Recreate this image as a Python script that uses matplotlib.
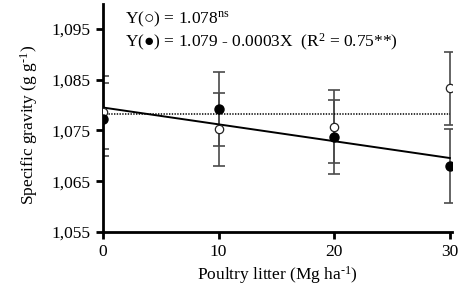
import matplotlib
matplotlib.use("Agg")
import matplotlib.pyplot as plt
import numpy as np

plt.rcParams['font.family'] = ['Liberation Serif', 'DejaVu Sans']
plt.rcParams['mathtext.fontset'] = 'custom'
plt.rcParams['mathtext.rm'] = 'Liberation Serif'
plt.rcParams['axes.unicode_minus'] = False

doses = [0, 10, 20, 30]
open_vals = [1.0786, 1.0752, 1.0757, 1.0833]
open_err = [0.0072, 0.0072, 0.0072, 0.0072]
filled_vals = [1.0772, 1.0793, 1.0737, 1.0680]
filled_err = [0.0072, 0.0073, 0.0073, 0.0073]
yticks = [1.055, 1.065, 1.075, 1.085, 1.095]
ytick_labels = ['1,055', '1,065', '1,075', '1,085', '1,095']
xticks = [0, 10, 20, 30]

fig = plt.figure(figsize=(4.70, 3.08), dpi=100)
ax = fig.add_axes([0.219, 0.247, 0.962 - 0.219, 0.988 - 0.247])

errc = '#4a4a4a'
ax.errorbar(doses, open_vals, yerr=open_err, fmt='none', ecolor=errc,
            elinewidth=1.2, capsize=4.5, capthick=1.2, zorder=2)
ax.errorbar(doses, filled_vals, yerr=filled_err, fmt='none', ecolor=errc,
            elinewidth=1.2, capsize=4.5, capthick=1.2, zorder=2)

# regression line for filled, mean line for open
coef = np.polyfit(doses, filled_vals, 1)
xs = np.array([doses[0], doses[-1]])
ax.plot(xs, np.polyval(coef, xs), color='black', lw=1.4, zorder=3)
ax.plot(xs, [np.mean(open_vals)] * 2, color='black', lw=1.1, ls=(0, (0.9, 0.9)), zorder=3)

ax.plot(doses, open_vals, 'o', mfc='white', mec='#222222', mew=0.9, ms=6, zorder=4)
ax.plot(doses, filled_vals, 'o', mfc='black', mec='black', ms=6.5, zorder=4)

ax.set_xlim(0, 30.2)
ax.set_ylim(1.055, 1.100)
ax.set_xticks(xticks)
ax.set_yticks(yticks)
ax.set_yticklabels(ytick_labels)
for s in ['top', 'right']:
    ax.spines[s].set_visible(False)
for s in ['left', 'bottom']:
    ax.spines[s].set_linewidth(2)
ax.tick_params(axis='both', direction='out', length=5, width=2, labelsize=12.5, pad=4)

ax.set_xlabel('Poultry litter (Mg ha$\\mathregular{^{\\text{-}1}}$)', fontsize=12.5, labelpad=3)
ax.set_ylabel('Specific gravity (g g$\\mathregular{^{\\text{-}1}}$)', fontsize=12.5)
ax.yaxis.set_label_coords(-0.18, 0.47)

ax.text(0.063, 0.933, 'Y(\u25cb) = 1.078$\\mathregular{^{ns}}$', transform=ax.transAxes,
        fontsize=12.5, va='center', ha='left')
ax.text(0.063, 0.83, 'Y(\u25cf) = 1.079 - 0.0003X  (R$\\mathregular{^{2}}$ = 0.75**)',
        transform=ax.transAxes, fontsize=12.5, va='center', ha='left')

fig.savefig('out.png', dpi=100)
